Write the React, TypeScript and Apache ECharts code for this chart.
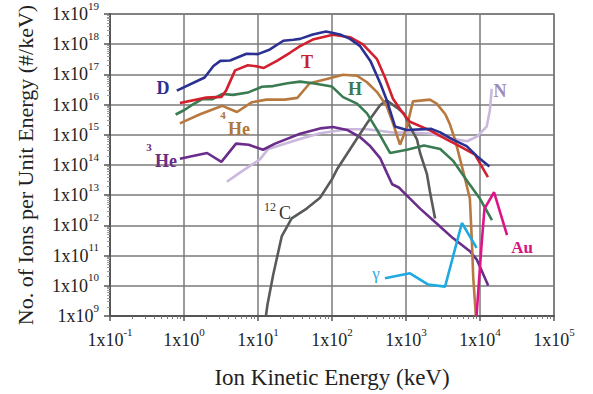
import React, { useEffect, useRef } from "react";
import * as echarts from "echarts";

// [energy keV, ions per keV]
const D_DATA = [[0.8,2.9e16],[1.9,7.9e16],[2.5,1.9e17],[3.1,2.8e17],[4.2,2.9e17],[7.0,4.8e17],[10,4.7e17],[14.5,6.7e17],[22,1.3e18],[30,1.4e18],[37,1.5e18],[55,2.1e18],[83,2.65e18],[128,2.1e18],[175,1.5e18],[240,8.6e17],[330,2.8e17],[450,5.0e16],[550,1.4e16],[710,1.9e15],[1020,1.45e15],[2200,1.57e15],[2900,1.2e15],[4300,6.9e14],[6600,4.2e14],[9000,2.0e14],[13400,9.0e13]];
const T_DATA = [[0.88,1.13e16],[2.0,1.7e16],[3.2,1.8e16],[3.7,2.9e16],[4.9,1.36e17],[7.3,2.0e17],[9.7,1.84e17],[12,1.64e17],[18,2.8e17],[27,5.2e17],[37,8.6e17],[55,1.42e18],[103,2.07e18],[175,1.7e18],[262,9.8e17],[406,3.2e17],[520,7.9e16],[667,1.57e16],[883,5.7e15],[1130,2.7e15],[2110,1.4e15],[3580,6.9e14],[5370,4.15e14],[8550,2.2e14],[12800,3.95e13]];
const H_DATA = [[0.77,4.7e15],[1.0,6.5e15],[1.32,1.02e16],[1.8,1.55e16],[2.4,1.5e16],[3.3,2.25e16],[4.6,2.1e16],[7.3,2.5e16],[11.3,3.9e16],[16,4.1e16],[25,5.1e16],[37,5.75e16],[55,5.1e16],[100,3.95e16],[141,1.77e16],[218,1.08e16],[297,5.1e15],[406,1.45e15],[608,2.5e14],[1030,3.2e14],[1750,4.4e14],[2900,3.4e14],[4300,1.4e14],[6900,2.7e13],[10000,7.6e12],[14500,1.5e12]];
const HE4_DATA = [[0.88,2.4e15],[1.65,4.8e15],[3.3,9.1e15],[5.2,5.7e15],[8.3,1.2e16],[13,1.46e16],[23,1.46e16],[34,1.67e16],[50,5.1e16],[85,7.0e16],[141,9.7e16],[218,9.0e16],[297,5.5e16],[406,2.6e16],[550,8.8e15],[667,2.4e15],[830,4.7e14],[1030,1.86e15],[1240,1.28e16],[2100,1.46e16],[2600,1.08e16],[3400,4.8e15],[3900,2.3e15],[4600,6.9e14],[5400,1.5e14],[6300,3.4e13],[7300,7.6e12],[7800,2.3e11],[8100,1.9e10],[8800,1e9]];
const HE3_DATA = [[0.88,1.6e14],[2.05,2.5e14],[3.2,1.27e14],[5.05,5.1e14],[7.5,4.7e14],[11.7,3.2e14],[17,5.1e14],[37,1.08e15],[69,1.63e15],[103,1.82e15],[160,1.45e15],[240,8.3e14],[330,4.15e14],[450,1.65e14],[550,5.6e13],[650,2.3e13],[800,1.8e13],[1030,9.7e12],[1550,3.6e12],[2600,1.16e12],[4300,3.8e11],[7300,1.4e11],[9100,7.2e10],[12900,1.03e10]];
const N_DATA = [[3.8,2.8e13],[5.7,5.6e13],[7.8,9.4e13],[10.6,1.53e14],[13.6,3.3e14],[19.8,4.5e14],[37,7.2e14],[69,1.13e15],[160,1.53e15],[297,1.53e15],[667,1.19e15],[1240,1.19e15],[2100,1.08e15],[3900,7.7e14],[6700,6.1e14],[9100,8.8e14],[12300,1.86e15],[13600,6.5e15],[14400,3.3e16]];
const C12_DATA = [[12.8,1e9],[13.4,2.3e9],[16.1,2.4e10],[20.9,4.3e11],[28.5,1.7e12],[45.5,3.6e12],[69,8.2e12],[100,3.4e13],[117,7.2e13],[192,4.7e14],[297,2.4e15],[446,9.5e15],[548,1.38e16],[780,7.4e15],[940,5.1e15],[1130,1.86e15],[1410,6.9e14],[1550,2.5e14],[1920,4.95e13],[2110,1.28e13],[2470,1.7e12]];
const GAMMA_DATA = [[520,1.77e10],[1130,2.6e10],[2000,1.1e10],[3370,9.4e9],[5700,1.2e12],[9000,1.8e11]];
const AU_DATA = [[8970,1e9],[9550,8.8e9],[10500,2.3e11],[11500,3.6e12],[15500,1.25e13],[23200,4.8e11]];

const SERIES_NAMES = ["N", "3He", "12C", "4He", "H", "γ", "Au", "T", "D"];

const SERIF = '"Liberation Serif", "Times New Roman", serif';

export default function App() {
  const ref = useRef<HTMLDivElement>(null);
  useEffect(() => {
    if (!ref.current) return;
    const chart = echarts.init(ref.current, null, { renderer: "svg" });
    const seriesDefs = [
      { name: SERIES_NAMES[0], data: N_DATA, color: "#CBB8DD" },
      { name: SERIES_NAMES[1], data: HE3_DATA, color: "#6B2D8B" },
      { name: SERIES_NAMES[2], data: C12_DATA, color: "#5A5A5A" },
      { name: SERIES_NAMES[3], data: HE4_DATA, color: "#B7793F" },
      { name: SERIES_NAMES[4], data: H_DATA, color: "#3A7B52" },
      { name: SERIES_NAMES[5], data: GAMMA_DATA, color: "#1FA9E1" },
      { name: SERIES_NAMES[6], data: AU_DATA, color: "#DD1487" },
      { name: SERIES_NAMES[7], data: T_DATA, color: "#D2202E" },
      { name: SERIES_NAMES[8], data: D_DATA, color: "#2B3192" },
    ];
    const fmt = (v: number) => {
      const e = Math.round(Math.log10(v));
      return `{m|1x10}{s|${e}}`;
    };
    const rich = {
      m: { fontFamily: SERIF, fontSize: 18, color: "#222", lineHeight: 28 },
      s: { fontFamily: SERIF, fontSize: 11, color: "#222", lineHeight: 12, verticalAlign: "top" },
    };
    const txt = (text: string, x: number, y: number, size: number, fill: string, bold = true) => ({
      type: "text",
      x,
      y,
      style: {
        text,
        fill,
        font: `${bold ? "bold " : ""}${size}px ${SERIF}`,
        align: "center",
        verticalAlign: "middle",
      },
      z: 100,
    });
    chart.setOption({
      animation: false,
      grid: { left: 110, right: 39, top: 12, bottom: 75, show: true, borderColor: "#7a7a7a", borderWidth: 1.5 },
      xAxis: {
        type: "log",
        logBase: 10,
        min: 0.1,
        max: 1e5,
        interval: 1,
        name: "Ion Kinetic Energy (keV)",
        nameLocation: "middle",
        nameGap: 50,
        nameTextStyle: { fontFamily: SERIF, fontSize: 23, color: "#222" },
        axisLine: { show: true, lineStyle: { color: "#555", width: 2 } },
        axisTick: { show: true, inside: false, length: 5, lineStyle: { color: "#555", width: 1.5 } },
        minorTick: { show: true, splitNumber: 9, length: 3, lineStyle: { color: "#777" } },
        splitLine: { show: true, lineStyle: { color: "#7a7a7a", width: 1.5 } },
        axisLabel: { formatter: fmt, rich, margin: 10 },
      },
      yAxis: {
        type: "log",
        logBase: 10,
        min: 1e9,
        max: 1e19,
        interval: 1,
        name: "No. of Ions per Unit Energy (#/keV)",
        nameLocation: "middle",
        nameGap: 74,
        nameTextStyle: { fontFamily: SERIF, fontSize: 22, color: "#222" },
        axisLine: { show: true, lineStyle: { color: "#555", width: 2 } },
        axisTick: { show: true, inside: false, length: 6, lineStyle: { color: "#555", width: 1.5 } },
        minorTick: { show: true, splitNumber: 9, length: 3, lineStyle: { color: "#999" } },
        splitLine: { show: true, lineStyle: { color: "#7a7a7a", width: 1.5 } },
        axisLabel: { formatter: fmt, rich, margin: 11 },
      },
      series: seriesDefs.map((s) => ({
        name: s.name,
        type: "line",
        data: s.data,
        showSymbol: false,
        symbol: "none",
        lineStyle: { color: s.color, width: 2.6 },
        itemStyle: { color: s.color },
        clip: true,
      })),
      graphic: [
        txt("D", 163, 88, 18, "#2B3192"),
        txt("T", 307, 62, 18, "#C1272D"),
        txt("H", 355, 89, 18, "#3A7B52"),
        txt("4", 223, 115, 11, "#B0763C"),
        txt("He", 239, 129, 18, "#B0763C"),
        txt("3", 149, 147, 11, "#6B2C84"),
        txt("He", 166, 161, 18, "#6B2C84"),
        txt("N", 500, 91, 18, "#9E8DB8"),
        txt("12", 270, 207, 12, "#333", false),
        txt("C", 285, 213, 18, "#333", false),
        txt("γ", 376, 273, 17, "#29ABE2", false),
        txt("Au", 522, 247, 17, "#D4157F"),
      ],
    });
    return () => chart.dispose();
  }, []);
  return (
    <div
      ref={ref}
      style={{ position: "fixed", left: 0, top: 0, width: 593, height: 394, background: "#fff" }}
    />
  );
}
